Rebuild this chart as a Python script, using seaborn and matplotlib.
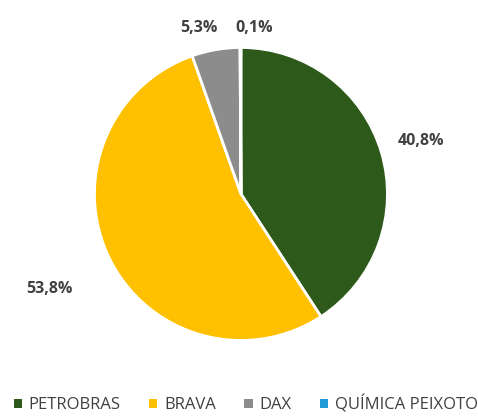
"""
Participação por empresa - gráfico de pizza.
"""
import numpy as np
import matplotlib.pyplot as plt
import seaborn as sns
from matplotlib.patches import Patch

empresas = ["PETROBRAS", "BRAVA", "DAX", "QUÍMICA PEIXOTO"]
valores = [40.8, 53.8, 5.3, 0.1]
cores = ["#2d5a1b", "#ffc000", "#8c8c8c", "#1e9ad6"]

sns.set_style("white")
plt.rcParams["font.family"] = ["Open Sans", "DejaVu Sans"]

fig = plt.figure(figsize=(4.78, 4.16), dpi=100)
ax = fig.add_axes([0.1946, 0.178, 0.619, 0.7115])

wedges, _ = ax.pie(
    valores,
    colors=cores,
    startangle=90,
    counterclock=False,
    wedgeprops={"edgecolor": "white", "linewidth": 2},
)
ax.set_xlim(-1.01, 1.01)
ax.set_ylim(-1.01, 1.01)

# rótulos fora da pizza (distância radial e ajuste horizontal)
distancia = [1.28, 1.46, 1.15, 1.13]
ajuste_x = [0.0, 0.0, -0.09, 0.095]
for i, (w, v) in enumerate(zip(wedges, valores)):
    ang = np.deg2rad((w.theta1 + w.theta2) / 2)
    x = distancia[i] * np.cos(ang) + ajuste_x[i]
    y = distancia[i] * np.sin(ang)
    if i >= 2:
        y = 1.13
    ax.text(x, y, f"{v:.1f}%".replace(".", ","), ha="center", va="center",
            fontsize=11.5, fontweight="bold", color="#404040")

ax.set_aspect("equal")

handles = [Patch(facecolor=c, edgecolor="none") for c in cores]
fig.legend(handles, empresas, loc="lower center", ncol=4, frameon=False,
           bbox_to_anchor=(0.514, -0.03), handlelength=0.5, handleheight=0.5,
           handletextpad=0.4, columnspacing=1.7, fontsize=12,
           labelcolor="#404040")

plt.savefig("out.png", dpi=100)
plt.close()
